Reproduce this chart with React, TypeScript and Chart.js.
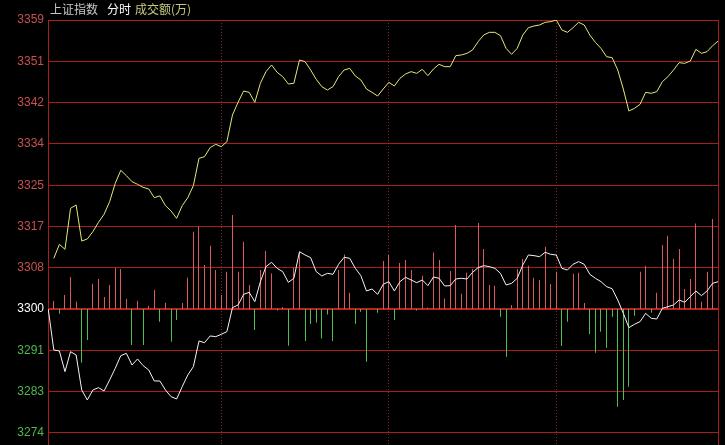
import React, { useEffect, useRef } from 'react';
import { Chart, registerables } from 'chart.js';

Chart.register(...registerables);

// Index (yellow), sampled every 2 minutes, slot 0..119
const indexLine: number[] = [
  3310.45, 3313.33, 3312.30, 3320.74, 3321.43, 3314.02, 3314.43, 3315.94, 3317.86, 3319.51,
  3322.11, 3325.89, 3328.56, 3327.46, 3326.23, 3325.68, 3325.06, 3324.72, 3322.94, 3323.30,
  3321.29, 3320.19, 3318.68, 3321.29, 3322.94, 3325.41, 3331.03, 3331.37, 3333.23, 3333.91,
  3333.43, 3334.46, 3339.95, 3342.56, 3344.89, 3344.61, 3342.56, 3346.47, 3348.87, 3350.24,
  3348.73, 3347.84, 3346.33, 3346.47, 3351.27, 3350.93, 3349.21, 3347.29, 3345.78, 3345.09,
  3345.78, 3347.84, 3349.21, 3349.55, 3347.98, 3347.15, 3345.30, 3344.61, 3343.86, 3345.30,
  3346.67, 3345.92, 3347.50, 3348.39, 3348.87, 3348.52, 3349.35, 3348.04, 3349.42, 3350.38,
  3349.90, 3349.90, 3352.16, 3352.30, 3352.64, 3353.33, 3355.04, 3356.41, 3356.96, 3356.96,
  3356.28, 3353.67, 3352.44, 3353.67, 3356.41, 3357.92, 3358.27, 3358.47, 3359.02, 3359.16,
  3359.50, 3357.44, 3356.96, 3357.92, 3359.02, 3358.47, 3356.41, 3354.90, 3353.67, 3351.95,
  3351.75, 3349.21, 3345.30, 3340.77, 3341.32, 3342.14, 3344.61, 3344.41, 3344.75, 3346.81,
  3347.84, 3349.21, 3350.72, 3350.58, 3351.06, 3353.46, 3352.64, 3352.98, 3354.22, 3355.18,
];

// Leading indicator (white), slot -1 (previous close) .. 119
const leadLine: number[] = [
  3300.00,
  3291.59, 3291.38, 3287.13, 3291.24, 3290.56, 3283.35, 3281.30, 3283.35, 3283.83, 3283.15,
  3285.41, 3287.81, 3290.42, 3290.90, 3288.50, 3289.73, 3288.36, 3287.47, 3285.21, 3285.20,
  3283.35, 3281.98, 3281.50, 3284.04, 3286.44, 3288.16, 3293.44, 3293.09, 3294.47, 3294.33,
  3294.81, 3295.36, 3300.30, 3300.85, 3303.04, 3303.45, 3301.53, 3305.65, 3308.74, 3309.63,
  3308.39, 3307.71, 3305.51, 3306.34, 3311.82, 3311.14, 3310.59, 3307.71, 3306.82, 3307.36,
  3307.16, 3309.22, 3310.66, 3310.45, 3308.39, 3306.88, 3303.73, 3304.14, 3303.04, 3305.10,
  3305.65, 3303.73, 3305.65, 3306.54, 3305.99, 3305.44, 3305.99, 3304.83, 3306.61, 3306.34,
  3304.76, 3304.83, 3306.20, 3306.34, 3306.20, 3307.57, 3308.53, 3308.94, 3308.74, 3308.39,
  3307.36, 3304.96, 3305.31, 3306.34, 3309.08, 3311.14, 3311.00, 3310.79, 3311.69, 3311.27,
  3311.14, 3308.39, 3308.05, 3309.22, 3309.77, 3309.22, 3307.16, 3306.34, 3305.65, 3304.62,
  3304.20, 3301.88, 3299.13, 3296.18, 3296.87, 3297.42, 3299.13, 3298.10, 3297.97, 3300.16,
  3300.50, 3300.85, 3301.88, 3301.40, 3302.56, 3303.73, 3302.77, 3303.73, 3305.31, 3305.65,
];

// Red/green strength bars, slot 0..119
const strengthBars: number[] = [
  8, -4.7, 14, 32, 7.3, -53.7, -31, 25.3, 30, 12,
  24, 41.3, 40, 10, -36, 8.3, -36, 3, 19, -12.7,
  6.3, -32.7, -11, 6, 31.3, 77.3, 82.3, 44, 63.3, 39,
  14, 37.3, 94, 37.3, 67.3, 24, -21, 39, 58, 35.7,
  -1.3, 2, -36.7, 41.3, 56.7, -32, -15, -13.3, -29.3, -5.3,
  -32, 39, 54.7, 16.3, -14.7, -2.7, -52.7, 0, -3.7, 48,
  54, -11, 46, 49, 39, -1.3, 33.3, 1.3, 56.7, 49,
  10.7, 38, 84, 15.3, 36.3, 40, 86, 60, 24, 23.3,
  -7.7, -47.7, 4, 40, 50, 43.3, 31.3, 29, 62.3, 25,
  37.3, -37, -12.7, 35.3, 36.3, 6, -25, -43.7, -22.7, -38.7,
  -7.7, -97.7, -91, -77.7, -6.7, 37.3, 43.3, -3.7, 16.3, 64,
  73.3, 50, 60, 20, 30, 85.7, 7.3, 37.3, 90, 50,
];

const yTickValues: number[] = [3274.5, 3283, 3291.5, 3300, 3308.5, 3317, 3325.5, 3334, 3342.5, 3351, 3359.5];
const yTickLabels: string[] = ['3274', '3283', '3291', '3300', '3308', '3317', '3325', '3334', '3342', '3351', '3359'];
const prevClose = 3300;
const sessionMarks: number[] = [30, 60, 90];

const GRID = '#a81e1e';
const RED_TXT = '#c85050';
const GREEN_TXT = '#50b850';

export default function App() {
  const ref = useRef<HTMLCanvasElement | null>(null);

  useEffect(() => {
    if (!ref.current) return;
    const frame = {
      id: 'frame',
      beforeDatasetDraw(chart: any, args: any) {
        const meta = args.meta;
        if (meta.type === 'bar') {
          meta.data.forEach((el: any) => {
            el.x = Math.floor(el.x) + 0.5;
          });
        }
      },
      afterDatasetsDraw(chart: any) {
        const { ctx, chartArea: a } = chart;
        ctx.save();
        ctx.strokeStyle = GRID;
        ctx.lineWidth = 1;
        ctx.beginPath();
        ctx.moveTo(Math.round(a.right) - 0.5, a.top);
        ctx.lineTo(Math.round(a.right) - 0.5, a.bottom);
        ctx.stroke();
        ctx.restore();
      },
    };
    const chart = new Chart(ref.current, {
      type: 'line',
      data: {
        datasets: [
          {
            type: 'line',
            label: '上证指数',
            data: indexLine.map((v, i) => ({ x: i, y: v })),
            borderColor: '#e6e678',
            borderWidth: 1,
            pointRadius: 0,
            tension: 0,
            yAxisID: 'y',
            order: 1,
          },
          {
            type: 'line',
            label: '领先',
            data: leadLine.map((v, i) => ({ x: i - 1, y: v })),
            borderColor: '#f4f4f4',
            borderWidth: 1,
            pointRadius: 0,
            tension: 0,
            yAxisID: 'y',
            order: 0,
          },
          {
            type: 'bar',
            label: '强弱',
            data: strengthBars.map((v, i) => ({ x: i, y: v })),
            backgroundColor: (c: any) => ((c.raw && c.raw.y < 0) ? '#4cc04c' : '#d85a5a'),
            barThickness: 1,
            inflateAmount: 0,
            borderWidth: 0,
            yAxisID: 'y2',
            order: 2,
          } as any,
        ],
      },
      options: {
        animation: false,
        responsive: false,
        devicePixelRatio: 1,
        layout: { padding: { top: 20, right: 6, bottom: 0, left: 0 } },
        plugins: { legend: { display: false }, tooltip: { enabled: false }, title: { display: false } },
        scales: {
          x: {
            type: 'linear',
            min: -1.04,
            max: 119.14,
            offset: false,
            afterBuildTicks: (s: any) => { s.ticks = sessionMarks.map((v) => ({ value: v })); },
            afterFit: (s: any) => { s.height = 0; s.paddingLeft = 0; s.paddingRight = 0; },
            ticks: { display: false },
            grid: { color: '#8a2424', lineWidth: 1, drawTicks: false, offset: false },
            border: { display: false, dash: [1, 2] },
          },
          y: {
            type: 'linear',
            position: 'left',
            min: 3272.03,
            max: 3359.5,
            afterBuildTicks: (s: any) => { s.ticks = yTickValues.map((v) => ({ value: v })); },
            afterFit: (s: any) => { s.width = 48; s.paddingTop = 0; s.paddingBottom = 0; },
            ticks: {
              autoSkip: false,
              padding: 4,
              font: { family: 'Liberation Sans', size: 12 },
              color: (c: any) => {
                const v = c.tick.value;
                if (v > prevClose) return RED_TXT;
                if (v < prevClose) return GREEN_TXT;
                return '#ffffff';
              },
              callback: (v: any) => {
                const k = yTickValues.indexOf(Number(v));
                return k >= 0 ? yTickLabels[k] : '';
              },
            },
            grid: {
              drawTicks: false,
              color: (c: any) => (c.tick && c.tick.value === prevClose ? '#bc2222' : GRID),
              lineWidth: (c: any) => (c.tick && c.tick.value === prevClose ? 2 : 1),
            },
            border: { display: true, color: GRID, width: 1 },
          },
          y2: {
            type: 'linear',
            display: false,
            min: -135.9,
            max: 289.1,
          },
        },
      },
      plugins: [frame],
    } as any);
    return () => chart.destroy();
  }, []);

  const txt: React.CSSProperties = {
    position: 'absolute',
    top: 2,
    fontFamily: '"Noto Sans CJK SC", sans-serif',
    fontSize: 12,
    lineHeight: '14px',
    whiteSpace: 'nowrap',
  };

  return (
    <div style={{ position: 'fixed', left: 0, top: 0, width: 725, height: 445, background: '#000', overflow: 'hidden' }}>
      <canvas ref={ref} width={725} height={445} style={{ display: 'block', width: 725, height: 445 }} />
      <span style={{ ...txt, left: 50, color: '#c8c8c8' }}>上证指数</span>
      <span style={{ ...txt, left: 107, color: '#ffffff' }}>分时</span>
      <span style={{ ...txt, left: 135, color: '#c8c882' }}>成交额(万)</span>
    </div>
  );
}
